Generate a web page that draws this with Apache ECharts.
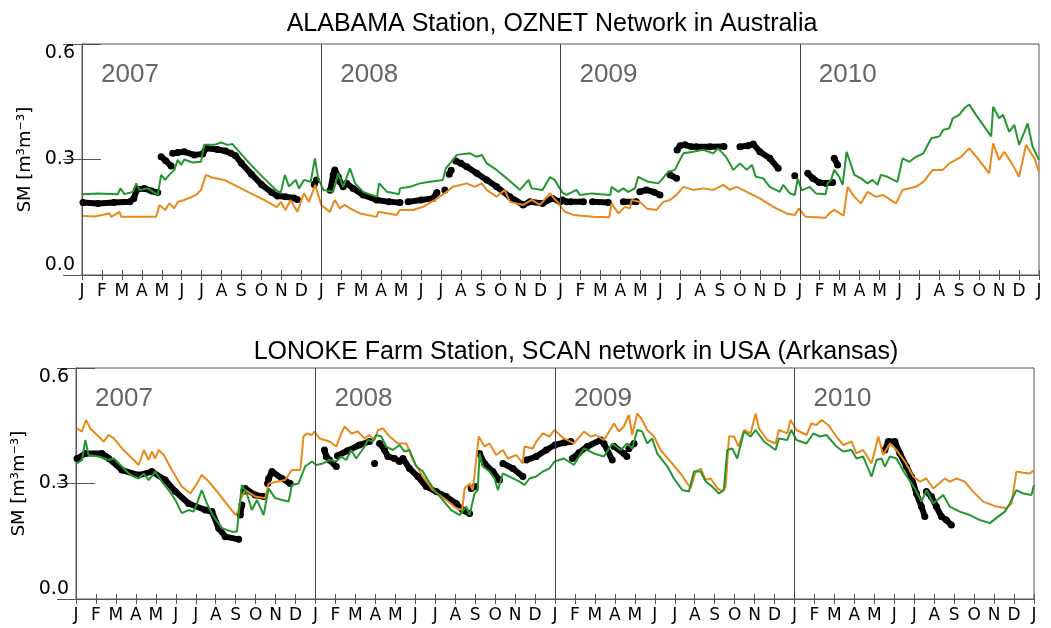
<!DOCTYPE html>
<html>
<head>
<meta charset="utf-8">
<script src="https://cdn.jsdelivr.net/npm/echarts@6/dist/echarts.min.js"></script>
<style>
html, body { margin: 0; padding: 0; background: #fff; }
#chart { width: 1051px; height: 628px; }
</style>
</head>
<body>
<div id="chart"></div>
<script>
// x = months since Jan 2007 (0..48), y = soil moisture [m3/m3]
var monthLetters = ['J', 'F', 'M', 'A', 'M', 'J', 'J', 'A', 'S', 'O', 'N', 'D'];
var yearLabels = ['2007', '2008', '2009', '2010'];
var panelTitles = ['ALABAMA Station, OZNET Network in Australia',
    'LONOKE Farm Station, SCAN network in USA (Arkansas)'];
var yAxisName = 'SM [m³m⁻³]';

// ALABAMA (OZNET)
var alabamaGreen = [[0.05,0.21],[0.8,0.212],[1.8,0.21],[1.93,0.225],[2.13,0.21],[2.55,0.216],[2.72,0.238],[2.88,0.221],[3.3,0.225],[3.8,0.208],[3.97,0.26],[4.17,0.247],[4.38,0.26],[4.63,0.273],[4.8,0.299],[4.97,0.286],[5.13,0.30],[5.55,0.292],[5.97,0.294],[6.13,0.338],[6.63,0.338],[6.97,0.344],[7.3,0.338],[7.55,0.34],[7.8,0.325],[8.47,0.286],[9.13,0.251],[9.77,0.219],[9.97,0.214],[10.17,0.26],[10.38,0.23],[10.72,0.247],[10.88,0.225],[11.13,0.247],[11.47,0.242],[11.68,0.303],[11.85,0.251],[12.1,0.221],[12.6,0.216],[12.85,0.264],[13.1,0.229],[13.44,0.277],[13.7,0.238],[14.1,0.216],[14.8,0.203],[14.9,0.238],[15.3,0.216],[15.9,0.21],[15.95,0.225],[16.45,0.229],[16.95,0.238],[17.45,0.242],[18.1,0.247],[18.25,0.277],[18.6,0.299],[18.8,0.312],[19.46,0.316],[19.8,0.307],[20.05,0.312],[20.3,0.29],[20.8,0.273],[21.3,0.251],[21.97,0.221],[22.4,0.247],[22.55,0.225],[23.1,0.221],[23.47,0.254],[23.7,0.247],[24.1,0.214],[24.3,0.208],[24.8,0.221],[24.97,0.208],[25.56,0.212],[26.5,0.208],[26.56,0.229],[26.9,0.216],[27.15,0.225],[27.4,0.216],[27.73,0.225],[27.9,0.255],[28.4,0.242],[28.9,0.238],[29.07,0.247],[29.4,0.268],[29.74,0.273],[29.9,0.29],[30.16,0.316],[30.66,0.32],[31.16,0.325],[31.66,0.316],[31.9,0.329],[32.3,0.307],[32.67,0.273],[33.0,0.29],[33.34,0.273],[33.6,0.286],[33.8,0.255],[34.17,0.251],[34.5,0.229],[35.0,0.216],[35.17,0.234],[35.5,0.212],[35.75,0.208],[35.9,0.25],[36.1,0.22],[36.5,0.229],[36.81,0.212],[37.3,0.21],[37.4,0.238],[37.57,0.247],[37.73,0.273],[37.98,0.255],[38.15,0.234],[38.35,0.32],[38.74,0.26],[39.07,0.251],[39.4,0.238],[39.65,0.247],[39.9,0.234],[40.07,0.26],[40.4,0.255],[40.9,0.242],[41.16,0.303],[41.5,0.294],[41.83,0.307],[42.2,0.316],[42.6,0.355],[43.0,0.36],[43.2,0.377],[43.5,0.381],[43.67,0.407],[44.0,0.416],[44.25,0.433],[44.5,0.443],[44.84,0.416],[45.6,0.36],[45.7,0.437],[46.0,0.407],[46.2,0.416],[46.5,0.372],[46.76,0.39],[47.0,0.338],[47.27,0.372],[47.43,0.394],[47.68,0.333],[48.0,0.299]];
var alabamaOrange = [[0.05,0.153],[0.63,0.152],[1.38,0.16],[1.47,0.151],[1.88,0.164],[1.97,0.151],[3.72,0.151],[3.88,0.182],[4.17,0.169],[4.38,0.186],[4.63,0.173],[4.8,0.19],[5.13,0.195],[5.47,0.202],[5.72,0.208],[5.97,0.221],[6.22,0.26],[6.47,0.254],[7.13,0.247],[7.63,0.234],[8.47,0.212],[9.13,0.195],[9.77,0.176],[9.97,0.19],[10.2,0.169],[10.47,0.195],[10.8,0.164],[11.13,0.212],[11.38,0.19],[11.7,0.234],[12.0,0.182],[12.43,0.164],[12.68,0.195],[12.93,0.173],[13.18,0.182],[13.44,0.173],[13.94,0.16],[14.78,0.151],[14.86,0.164],[15.78,0.156],[15.95,0.169],[16.6,0.169],[17.1,0.177],[17.7,0.195],[18.29,0.216],[18.6,0.229],[19.3,0.238],[19.7,0.229],[20.05,0.238],[20.3,0.221],[20.8,0.203],[21.2,0.221],[21.46,0.19],[22.13,0.182],[22.55,0.195],[22.97,0.182],[23.47,0.212],[23.9,0.186],[24.2,0.165],[24.64,0.156],[25.64,0.151],[26.45,0.15],[26.56,0.186],[26.9,0.16],[27.23,0.177],[27.48,0.173],[27.57,0.195],[27.98,0.19],[28.32,0.173],[28.82,0.169],[29.15,0.19],[29.49,0.195],[29.82,0.208],[30.16,0.229],[30.66,0.221],[31.16,0.225],[31.66,0.221],[32.16,0.234],[32.5,0.221],[32.83,0.229],[33.34,0.216],[34.0,0.199],[34.67,0.177],[35.34,0.16],[35.76,0.156],[35.95,0.173],[36.15,0.16],[36.3,0.151],[37.3,0.149],[37.48,0.16],[37.73,0.169],[38.2,0.154],[38.4,0.229],[38.74,0.203],[39.07,0.186],[39.4,0.216],[39.82,0.203],[40.16,0.208],[40.83,0.186],[41.16,0.221],[41.83,0.229],[42.2,0.242],[42.67,0.273],[43.17,0.273],[43.5,0.29],[44.1,0.307],[44.5,0.329],[44.93,0.303],[45.5,0.264],[45.7,0.342],[46.0,0.299],[46.26,0.32],[46.68,0.286],[47.0,0.255],[47.35,0.338],[47.5,0.325],[47.77,0.303],[48.0,0.268]];
// in-situ, null = gap in the record
var alabamaInsitu = [[0.05,0.188],[0.8,0.186],[1.6,0.188],[2.4,0.19],[2.6,0.199],[2.75,0.222],[3.13,0.225],[3.5,0.218],[3.8,0.214],null,
    [3.97,0.307],[4.2,0.297],[4.47,0.283],null,
    [4.55,0.316],[4.8,0.318],[5.13,0.32],[5.63,0.312],[6.05,0.314],[6.22,0.329],[6.8,0.326],[7.2,0.322],[7.47,0.316],[7.7,0.31],[8.0,0.29],[8.5,0.262],[9.0,0.235],[9.5,0.215],[9.8,0.205],[10.2,0.203],[10.63,0.2],[10.8,0.196],null,
    [11.65,0.235],[11.76,0.247],null,
    [12.45,0.22],[12.6,0.26],[12.68,0.273],[12.85,0.255],[12.93,0.242],[13.1,0.229],[13.27,0.238],[13.6,0.225],[14.1,0.208],[14.78,0.195],[15.4,0.19],[15.95,0.188],null,
    [16.36,0.19],[17.0,0.195],[17.6,0.199],[17.8,0.214],null,
    [18.2,0.221],null,
    [18.42,0.262],[18.52,0.272],null,
    [18.75,0.296],[19.0,0.29],[19.3,0.281],[19.8,0.264],[20.3,0.247],[20.8,0.229],[21.46,0.203],[22.13,0.182],[22.47,0.19],[23.1,0.186],[23.6,0.199],[23.97,0.19],[24.1,0.195],[24.3,0.19],null,
    [24.5,0.19],[25.15,0.19],null,
    [25.6,0.19],[26.4,0.188],null,
    [27.15,0.19],[27.8,0.19],null,
    [27.98,0.216],[28.3,0.221],[28.7,0.215],[28.99,0.208],null,
    [29.5,0.26],[29.82,0.251],null,
    [29.85,0.325],[30.0,0.336],[30.24,0.338],[30.58,0.333],null,
    [30.8,0.333],[31.5,0.333],[32.2,0.334],null,
    [33.0,0.333],[33.4,0.336],[33.67,0.34],[34.0,0.32],[34.5,0.303],[34.92,0.277],null,
    [35.75,0.258],null,
    [36.4,0.264],[36.65,0.251],[36.98,0.24],[37.3,0.238],[37.65,0.24],null,
    [37.73,0.303],[37.9,0.286]];

// LONOKE (SCAN)
var lonokeGreen = [[0.05,0.352],[0.3,0.361],[0.47,0.413],[0.63,0.374],[1.13,0.37],[1.64,0.361],[1.9,0.365],[2.3,0.344],[2.64,0.326],[2.89,0.318],[3.14,0.313],[3.4,0.326],[3.64,0.309],[3.97,0.331],[4.3,0.305],[4.64,0.283],[4.98,0.257],[5.3,0.223],[5.64,0.231],[5.9,0.227],[6.06,0.248],[6.3,0.283],[6.56,0.248],[6.9,0.214],[7.31,0.184],[7.8,0.175],[8.06,0.175],[8.31,0.296],[8.56,0.274],[8.81,0.231],[9.07,0.257],[9.4,0.218],[9.65,0.287],[9.98,0.262],[10.32,0.257],[10.65,0.253],[10.82,0.296],[11.15,0.3],[11.48,0.344],[11.82,0.357],[12.04,0.348],[12.37,0.352],[12.7,0.361],[13.04,0.357],[13.29,0.37],[13.54,0.361],[13.79,0.387],[14.04,0.365],[14.46,0.396],[14.62,0.413],[14.87,0.409],[15.04,0.426],[15.3,0.422],[15.54,0.396],[15.88,0.387],[16.21,0.4],[16.46,0.383],[16.71,0.387],[17.05,0.344],[17.38,0.331],[17.63,0.309],[17.96,0.283],[18.38,0.257],[18.8,0.231],[19.22,0.218],[19.55,0.24],[19.72,0.218],[19.97,0.274],[20.13,0.283],[20.22,0.378],[20.39,0.344],[20.72,0.331],[20.97,0.313],[21.14,0.283],[21.39,0.326],[21.72,0.318],[22.22,0.305],[22.47,0.296],[22.72,0.313],[23.06,0.318],[23.39,0.331],[23.72,0.339],[23.97,0.357],[24.45,0.365],[24.95,0.348],[25.45,0.391],[25.95,0.378],[26.45,0.37],[26.87,0.404],[27.29,0.387],[27.62,0.404],[27.87,0.391],[28.12,0.439],[28.37,0.435],[28.62,0.404],[28.87,0.417],[29.12,0.378],[29.63,0.344],[29.96,0.313],[30.38,0.283],[30.71,0.279],[30.96,0.331],[31.3,0.331],[31.55,0.305],[31.88,0.292],[32.21,0.274],[32.46,0.283],[32.63,0.387],[32.88,0.391],[33.13,0.365],[33.47,0.435],[33.8,0.422],[34.05,0.439],[34.47,0.409],[35.05,0.387],[35.22,0.417],[35.64,0.413],[35.84,0.439],[36.1,0.413],[36.6,0.404],[36.94,0.43],[37.27,0.422],[37.6,0.426],[38.1,0.396],[38.44,0.383],[38.86,0.387],[39.1,0.365],[39.44,0.37],[39.86,0.318],[40.11,0.361],[40.36,0.365],[40.53,0.344],[40.78,0.37],[41.11,0.365],[41.53,0.326],[42.03,0.287],[42.36,0.253],[42.61,0.283],[42.95,0.248],[43.45,0.27],[43.78,0.24],[44.28,0.227],[44.79,0.218],[45.29,0.205],[45.79,0.197],[46.2,0.214],[46.54,0.227],[46.79,0.248],[47.12,0.283],[47.46,0.274],[47.87,0.27],[48.0,0.296]];
var lonokeOrange = [[0.05,0.443],[0.3,0.435],[0.5,0.465],[0.72,0.443],[1.13,0.422],[1.38,0.409],[1.64,0.426],[1.9,0.417],[2.3,0.391],[2.97,0.357],[3.14,0.348],[3.4,0.387],[3.64,0.361],[3.8,0.383],[3.97,0.365],[4.14,0.387],[4.4,0.374],[4.8,0.335],[5.3,0.292],[5.73,0.274],[6.06,0.3],[6.3,0.322],[6.65,0.305],[7.15,0.274],[7.8,0.231],[8.0,0.218],[8.15,0.231],[8.23,0.257],[8.48,0.283],[8.98,0.266],[9.48,0.262],[9.65,0.3],[10.48,0.309],[10.82,0.335],[11.24,0.335],[11.4,0.422],[11.57,0.43],[11.82,0.426],[11.95,0.435],[12.2,0.417],[12.7,0.409],[13.04,0.396],[13.29,0.43],[13.46,0.448],[13.8,0.43],[14.12,0.435],[14.46,0.417],[14.7,0.426],[14.96,0.413],[15.13,0.439],[15.38,0.443],[15.71,0.422],[16.13,0.404],[16.55,0.404],[16.88,0.361],[17.38,0.318],[17.88,0.283],[18.55,0.257],[19.05,0.236],[19.35,0.231],[19.47,0.287],[19.72,0.3],[19.88,0.283],[20.18,0.422],[20.47,0.396],[20.72,0.404],[21.05,0.374],[21.39,0.387],[21.64,0.365],[22.06,0.374],[22.39,0.352],[22.47,0.396],[22.89,0.391],[23.06,0.409],[23.39,0.43],[23.72,0.422],[23.97,0.439],[24.45,0.417],[24.95,0.404],[25.45,0.435],[25.79,0.422],[26.04,0.426],[26.45,0.413],[26.96,0.456],[27.2,0.435],[27.45,0.448],[27.7,0.478],[27.87,0.426],[28.12,0.482],[28.37,0.465],[28.62,0.439],[28.96,0.422],[29.29,0.387],[29.79,0.357],[30.29,0.326],[30.63,0.3],[30.8,0.288],[31.05,0.331],[31.3,0.339],[31.55,0.309],[31.8,0.313],[32.13,0.288],[32.38,0.279],[32.55,0.292],[32.72,0.422],[32.97,0.422],[33.2,0.396],[33.47,0.439],[33.8,0.43],[34.05,0.482],[34.22,0.443],[34.63,0.413],[35.05,0.404],[35.22,0.439],[35.64,0.43],[35.8,0.465],[36.1,0.439],[36.6,0.426],[36.85,0.456],[37.1,0.452],[37.36,0.465],[37.69,0.452],[38.1,0.422],[38.44,0.4],[38.86,0.409],[39.1,0.378],[39.44,0.387],[39.86,0.352],[40.2,0.422],[40.44,0.374],[40.78,0.404],[41.11,0.387],[41.53,0.357],[41.95,0.318],[42.28,0.305],[42.61,0.313],[42.95,0.287],[43.53,0.313],[43.78,0.305],[44.12,0.313],[44.53,0.305],[44.95,0.279],[45.45,0.253],[46.12,0.24],[46.62,0.236],[46.87,0.248],[47.12,0.331],[47.46,0.328],[47.79,0.326],[48.0,0.335]];
var lonokeInsitu = [[0.05,0.365],[0.47,0.378],[1.3,0.378],[1.5,0.37],[1.64,0.365],[2.3,0.335],[3.14,0.322],[3.8,0.331],[4.47,0.309],[4.98,0.279],[5.64,0.248],[6.48,0.231],[6.81,0.227],[7.15,0.184],[7.48,0.162],[8.15,0.155],null,
    [8.23,0.218],[8.31,0.244],null,
    [8.4,0.28],[8.48,0.287],[8.98,0.27],[9.4,0.266],null,
    [9.6,0.3],[9.65,0.313],[9.82,0.331],[10.32,0.313],[10.73,0.3],null,
    [12.45,0.387],[12.54,0.37],[12.7,0.361],[13.04,0.344],null,
    [13.1,0.372],[13.6,0.385],[14.2,0.4],[14.7,0.409],null,
    [14.96,0.352],null,
    [15.21,0.404],[15.46,0.387],[15.63,0.37],[15.96,0.365],[16.21,0.357],[16.38,0.365],[16.71,0.339],[17.13,0.318],[17.55,0.292],[18.05,0.279],[18.55,0.266],[19.05,0.248],[19.38,0.231],[19.72,0.222],null,
    [19.8,0.287],[20.0,0.292],null,
    [20.22,0.378],[20.47,0.352],[20.89,0.331],[21.22,0.309],null,
    [21.39,0.352],[21.89,0.339],[22.39,0.318],null,
    [22.56,0.361],[23.06,0.37],[23.56,0.387],[24.0,0.4],[24.45,0.406],[24.8,0.409],null,
    [24.87,0.365],[25.2,0.38],[25.62,0.396],[26.29,0.413],[26.45,0.404],[26.87,0.361],null,
    [26.96,0.396],[27.45,0.378],[27.6,0.37],null,
    [27.7,0.39],[27.96,0.404],null,
    [40.53,0.387],[40.7,0.409],[41.03,0.409],[41.28,0.378],[41.61,0.344],[41.86,0.318],[42.11,0.274],[42.36,0.24],[42.53,0.214],null,
    [42.61,0.279],[42.86,0.266],[43.11,0.24],[43.36,0.214],[43.61,0.205],[43.86,0.192]];

var greenColor = '#23962f';
var orangeColor = '#e8891a';
var frameColor = '#555';

var panels = [
    {title: panelTitles[0], green: alabamaGreen, orange: alabamaOrange, insitu: alabamaInsitu,
        left: 82, top: 44, width: 957, titleX: 552, titleY: 24},
    {title: panelTitles[1], green: lonokeGreen, orange: lonokeOrange, insitu: lonokeInsitu,
        left: 76, top: 368, width: 958, titleX: 576, titleY: 352}
];
var plotHeight = 231;

var grids = [], xAxes = [], yAxes = [], series = [], texts = [];

panels.forEach(function (p, i) {
    grids.push({left: p.left, top: p.top, width: p.width, height: plotHeight,
        show: true, borderColor: frameColor, borderWidth: 1, containLabel: false, outerBoundsMode: 'none'});
    // bottom axis with month letters
    xAxes.push({gridIndex: i, type: 'value', position: 'bottom', min: 0, max: 48, interval: 1,
        axisLine: {lineStyle: {color: frameColor}},
        axisTick: {inside: true, length: 5, lineStyle: {color: frameColor}},
        axisLabel: {margin: 8, color: '#000', fontSize: 17, fontFamily: 'DejaVu Sans',
            formatter: function (v) { return monthLetters[Math.round(v) % 12]; }},
        splitLine: {show: false}});
    // top axis: ticks only
    xAxes.push({gridIndex: i, type: 'value', position: 'top', min: 0, max: 48, interval: 1,
        axisLine: {lineStyle: {color: frameColor}},
        axisTick: {inside: true, length: 5, lineStyle: {color: frameColor}},
        axisLabel: {show: false}, splitLine: {show: false}});
    yAxes.push({gridIndex: i, type: 'value', position: 'left', min: 0, max: 0.6, interval: 0.3,
        name: yAxisName, nameLocation: 'middle', nameGap: 46, nameRotate: 90,
        nameTextStyle: {color: '#000', fontSize: 18, fontFamily: 'DejaVu Sans'},
        axisLine: {show: true, lineStyle: {color: frameColor}},
        axisTick: {inside: true, length: 19, lineStyle: {color: frameColor}},
        axisLabel: {margin: 7, color: '#000', fontSize: 19, fontFamily: 'DejaVu Sans',
            verticalAlignMinLabel: 'bottom', verticalAlignMaxLabel: 'top',
            formatter: function (v) { return v.toFixed(1); }},
        splitLine: {show: false}});
    yAxes.push({gridIndex: i, type: 'value', position: 'right', min: 0, max: 0.6, interval: 0.3,
        axisLine: {show: true, lineStyle: {color: frameColor}},
        axisTick: {inside: true, length: 19, lineStyle: {color: frameColor}},
        axisLabel: {show: false}, splitLine: {show: false}});

    series.push({type: 'line', xAxisIndex: 2 * i, yAxisIndex: 2 * i, z: 2,
        data: p.insitu.map(function (d) { return d ? d : ['-', '-']; }),
        connectNulls: false, showSymbol: true, symbol: 'circle', symbolSize: 7,
        itemStyle: {color: '#000'}, lineStyle: {color: '#000', width: 6},
        markLine: {silent: true, symbol: 'none', label: {show: false},
            lineStyle: {color: '#444', type: 'solid', width: 1},
            data: [{xAxis: 12}, {xAxis: 24}, {xAxis: 36}]}});
    series.push({type: 'line', xAxisIndex: 2 * i, yAxisIndex: 2 * i, z: 3,
        data: p.orange, showSymbol: false, lineStyle: {color: orangeColor, width: 2}});
    series.push({type: 'line', xAxisIndex: 2 * i, yAxisIndex: 2 * i, z: 4,
        data: p.green, showSymbol: false, lineStyle: {color: greenColor, width: 2}});

    texts.push({type: 'text', x: p.titleX, y: p.titleY, silent: true,
        style: {text: p.title, fill: '#000', fontSize: 25, fontFamily: 'Liberation Sans',
            align: 'center', verticalAlign: 'middle'}});
    yearLabels.forEach(function (yr, k) {
        texts.push({type: 'text', x: p.left + k * p.width / 4 + 19, y: p.top + 31, silent: true,
            style: {text: yr, fill: '#666', fontSize: 26, fontFamily: 'Liberation Sans',
                align: 'left', verticalAlign: 'middle'}});
    });
});

var myChart = echarts.init(document.getElementById('chart'));
myChart.setOption({
    animation: false,
    backgroundColor: '#fff',
    grid: grids,
    xAxis: xAxes,
    yAxis: yAxes,
    series: series,
    graphic: texts
});
</script>
</body>
</html>
